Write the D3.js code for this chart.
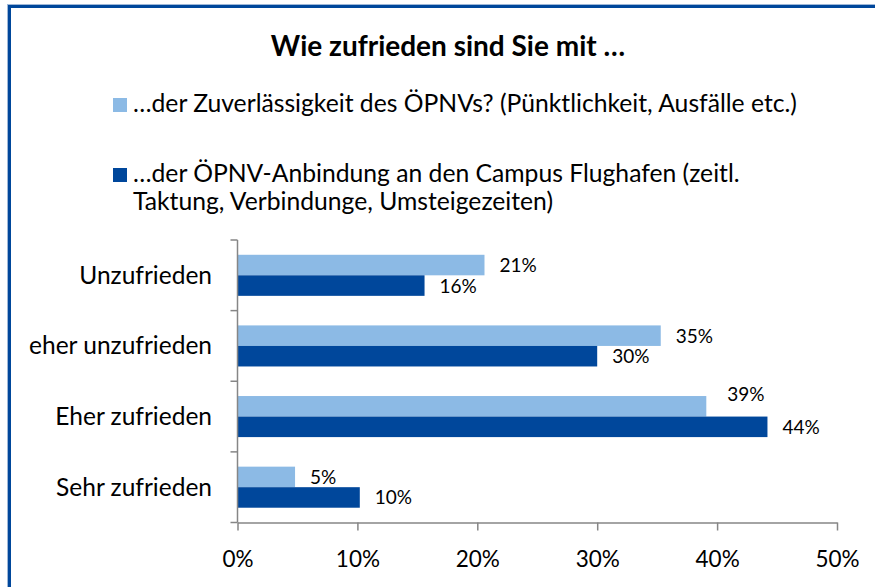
<!DOCTYPE html>
<html>
<head>
<meta charset="utf-8">
<script src="https://cdn.jsdelivr.net/npm/d3@7"></script>
<style>
  html, body { margin: 0; padding: 0; background: #fff; }
  svg { display: block; font-family: Lato, "Open Sans", sans-serif; }
</style>
</head>
<body>
<svg id="chart" width="875" height="587"></svg>
<script>
const title = 'Wie zufrieden sind Sie mit …';
const categories = ['Unzufrieden', 'eher unzufrieden', 'Eher zufrieden', 'Sehr zufrieden'];
const seriesNames = [
  ['…der Zuverlässigkeit des ÖPNVs? (Pünktlichkeit, Ausfälle etc.)'],
  ['…der ÖPNV-Anbindung an den Campus Flughafen (zeitl.', 'Taktung, Verbindunge, Umsteigezeiten)']
];
const reliability = [20.6, 35.3, 39.1, 4.8];
const connection = [15.6, 30.0, 44.2, 10.2];
const xTicks = [0, 10, 20, 30, 40, 50];

const colors = ['#8CBAE5', '#00479B'];
const axisColor = '#868686';

const svg = d3.select('#chart');

// frame
svg.append('rect')
  .attr('x', 7.5).attr('y', 4.5).attr('width', 900).attr('height', 600)
  .attr('fill', 'none').attr('stroke', '#9fb8d8').attr('stroke-width', 1);
svg.append('rect')
  .attr('x', 9.5).attr('y', 6.5).attr('width', 900).attr('height', 600)
  .attr('fill', 'none').attr('stroke', '#00479B').attr('stroke-width', 3);

// title
svg.append('text')
  .attr('x', 448).attr('y', 56)
  .attr('text-anchor', 'middle')
  .attr('font-size', 28).attr('font-weight', 'bold')
  .attr('fill', '#000')
  .text(title);

// legend
const legendRows = [112, 182];
seriesNames.forEach((lines, i) => {
  const g = svg.append('g');
  g.append('rect')
    .attr('x', 113).attr('y', legendRows[i] - 14)
    .attr('width', 14).attr('height', 14)
    .attr('fill', colors[i]);
  g.selectAll('text')
    .data(lines)
    .join('text')
    .attr('x', 133)
    .attr('y', (d, j) => legendRows[i] + j * 28)
    .attr('font-size', 24.7)
    .attr('fill', '#000')
    .text(d => d);
});

// scales
const x = d3.scaleLinear().domain([0, 50]).range([237.5, 837]);
const y = d3.scaleBand().domain(categories).range([240, 522.5]);
const ySub = d3.scaleBand().domain([0, 1]).range([0, y.step()])
  .paddingInner(0).paddingOuter(0.72);

const rows = categories.map((c, i) => ({ cat: c, values: [reliability[i], connection[i]] }));

// bars
const groups = svg.append('g')
  .selectAll('g')
  .data(rows)
  .join('g')
  .attr('transform', d => `translate(0,${y(d.cat)})`);

groups.selectAll('rect')
  .data(d => d.values.map((v, k) => ({ v, k, cat: d.cat })))
  .join('rect')
  .attr('x', x(0))
  .attr('y', d => ySub(d.k))
  .attr('width', d => x(d.v) - x(0))
  .attr('height', ySub.bandwidth())
  .attr('fill', d => colors[d.k]);

// data labels (Excel moved one label up to avoid a clash)
groups.selectAll('text')
  .data(d => d.values.map((v, k) => ({ v, k, cat: d.cat })))
  .join('text')
  .attr('x', d => x(d.v) + 15 + (d.cat === 'Eher zufrieden' && d.k === 0 ? 6 : 0))
  .attr('y', d => ySub(d.k) + ySub.bandwidth() / 2 + 7 - (d.cat === 'Eher zufrieden' && d.k === 0 ? 12 : 0))
  .attr('font-size', 19)
  .attr('fill', '#000')
  .text(d => Math.round(d.v) + '%');

// x axis
const xAxis = svg.append('g')
  .attr('transform', `translate(0,${y.range()[1]})`)
  .call(d3.axisBottom(x).tickValues(xTicks).tickSize(8).tickSizeOuter(0).tickFormat(d => d + '%'));
xAxis.select('.domain').attr('stroke', axisColor).attr('stroke-width', 1.5);
xAxis.selectAll('.tick line').attr('stroke', axisColor).attr('stroke-width', 1.5);
xAxis.selectAll('.tick text')
  .attr('font-family', 'Lato, sans-serif')
  .attr('font-size', 22.5).attr('fill', '#000')
  .attr('dy', null).attr('y', 44);

// y axis: ticks at category boundaries
const boundaries = categories.map(c => y(c)).concat([y.range()[1]]);
const yAxis = svg.append('g');
yAxis.append('line')
  .attr('x1', x(0)).attr('x2', x(0))
  .attr('y1', y.range()[0]).attr('y2', y.range()[1])
  .attr('stroke', axisColor).attr('stroke-width', 1.5);
yAxis.selectAll('line.tk')
  .data(boundaries)
  .join('line')
  .attr('class', 'tk')
  .attr('x1', x(0) - 7).attr('x2', x(0))
  .attr('y1', d => d).attr('y2', d => d)
  .attr('stroke', axisColor).attr('stroke-width', 1.5);
yAxis.selectAll('text')
  .data(categories)
  .join('text')
  .attr('x', 212)
  .attr('y', d => y(d) + y.bandwidth() / 2 + 8.5)
  .attr('text-anchor', 'end')
  .attr('font-size', 24.5)
  .attr('fill', '#000')
  .text(d => d);
</script>
</body>
</html>
